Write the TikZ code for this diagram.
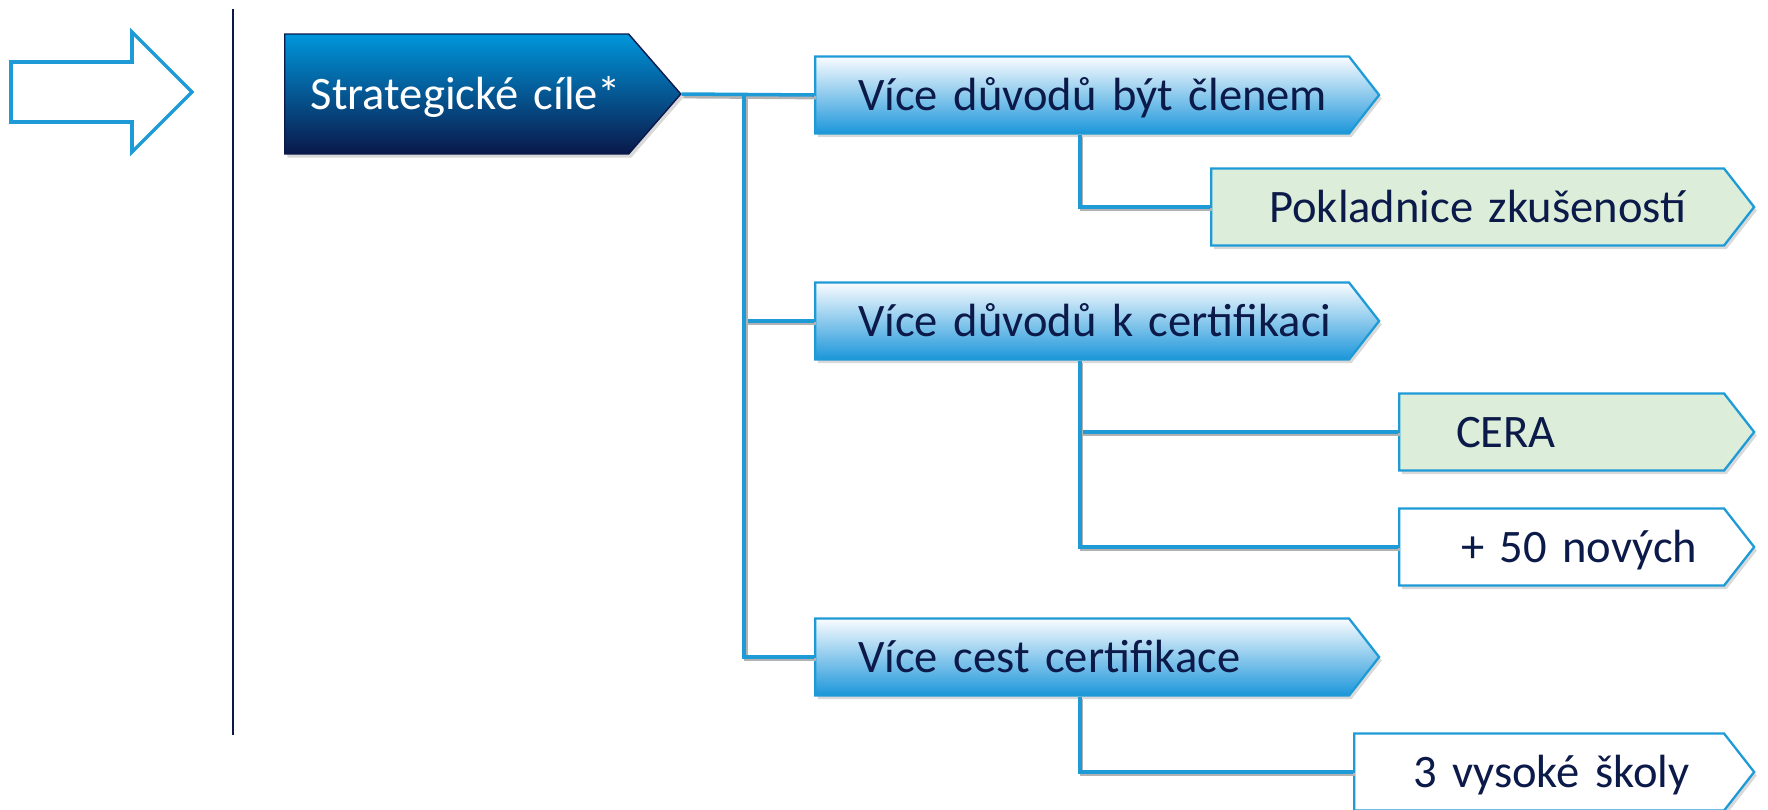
\documentclass[tikz,border=0pt]{standalone}
\usepackage{fontspec}
\setmainfont{Carlito}
\usetikzlibrary{shapes.symbols,shadows}

\definecolor{linkblue}{RGB}{30,155,215}
\definecolor{navytext}{RGB}{12,26,74}
\definecolor{stratdark}{RGB}{10,24,74}
\definecolor{stratmid}{RGB}{4,98,164}
\definecolor{stratlight}{RGB}{0,150,219}
\definecolor{goallight}{RGB}{250,252,255}
\definecolor{goalmid}{RGB}{190,215,242}
\definecolor{goaldark}{RGB}{28,150,218}
\definecolor{greenfill}{RGB}{220,238,217}

\begin{document}
\begin{tikzpicture}[x=0.02cm,y=-0.02cm,
    textinset/.style={execute at begin node={\hspace*{#1}}},
    box/.style={signal, signal to=east, signal from=nowhere, anchor=west,
      align=left, inner xsep=0pt, inner ysep=0pt, text height=17.3pt, text depth=0pt,
      minimum height=1.54cm, signal pointer angle=104, draw=linkblue, line width=1.3pt,
      text=navytext, font=\fontsize{26.5}{32}\selectfont,
      drop shadow={shadow xshift=1.5pt, shadow yshift=-2pt, opacity=0.3}},
    stratbox/.style={box, minimum height=2.4cm, signal pointer angle=98,
      top color=stratlight, middle color=stratmid, bottom color=stratdark,
      draw=stratdark, line width=0.8pt,
      text=white, text width=6.88cm, textinset=0.52cm},
    goalbox/.style={box, top color=goallight, middle color=goalmid, bottom color=goaldark,
      text width=10.68cm, textinset=0.86cm},
    greenbox/.style={box, fill=greenfill},
    whitebox/.style={box, fill=white},
    link/.style={draw=linkblue, line width=2pt,
      preaction={draw=black!30, line width=2pt, transform canvas={shift={(1pt,-1.5pt)}}}},
  ]
  \useasboundingbox (0,0) rectangle (1768,809);

  % left arrow and separator
  \draw[linkblue, line width=2pt] (11,62) -- (132,62) -- (132,32) -- (192,92)
    -- (132,152) -- (132,122) -- (11,122) -- cycle;
  \draw[stratdark, line width=0.8pt] (233,9) -- (233,735);

  % boxes
  \node[stratbox] (strat) at (284,94) {\mbox{Strategické cíle*}};

  \node[goalbox] (g1) at (814,95) {Více důvodů být členem};
  \node[goalbox] (g2) at (814,321) {Více důvodů k certifikaci};
  \node[goalbox] (g3) at (814,657) {Více cest certifikace};

  \node[greenbox, text width=10.26cm, textinset=1.16cm] (treasury) at (1210,207) {Pokladnice zkušeností};
  \node[greenbox, text width=6.5cm, textinset=1.14cm] (cera) at (1398,432) {CERA};
  \node[whitebox, text width=6.5cm, textinset=1.24cm] (plus50) at (1398,547) {+ 50 nových};
  \node[whitebox, text width=7.4cm, textinset=1.18cm] (schools) at (1353,772) {3 vysoké školy};

  % connectors
  \coordinate (trunk) at (744,94);
  \draw[link] (strat.east) -- (g1.west);
  \draw[link] (trunk) |- (g2.west);
  \draw[link] (trunk) |- (g3.west);

  \draw[link] ([xshift=5.32cm]g1.south west) |- (treasury.west);
  \draw[link] ([xshift=5.32cm]g2.south west) |- (cera.west);
  \draw[link] ([xshift=5.32cm]g2.south west) |- (plus50.west);
  \draw[link] ([xshift=5.32cm]g3.south west) |- (schools.west);
\end{tikzpicture}
\end{document}
